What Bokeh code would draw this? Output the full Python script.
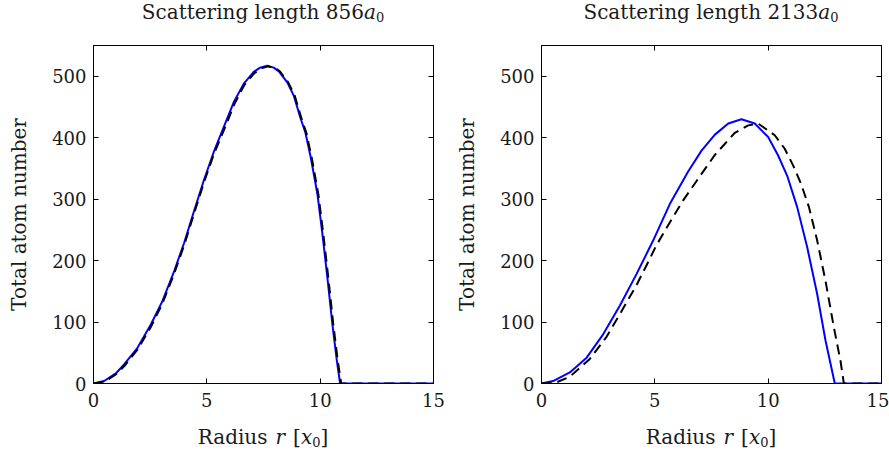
from bokeh.plotting import figure
from bokeh.layouts import row, column
from bokeh.models import Range1d, FixedTicker, LinearAxis, CustomJSTickFormatter, Div
from bokeh.embed import file_html
from bokeh.resources import INLINE

# ---------------- data ----------------
scattering_lengths = ["856", "2133"]
x_ticks = [0, 5, 10, 15]
y_ticks = [0, 100, 200, 300, 400, 500]

# left panel (856 a0)
r_blue_1 = [0, 0.47, 1.0, 1.35, 1.94, 2.53, 3.04, 3.56, 4.0, 4.44, 4.88, 5.32, 5.82, 6.19, 6.63,
            7.07, 7.35, 7.66, 7.95, 8.18, 8.55, 8.84, 9.13, 9.35, 9.59, 9.88, 10.1, 10.32, 10.54,
            10.74, 10.88, 15]
n_blue_1 = [0, 4, 17, 31, 58, 96, 134, 183, 229, 281, 332, 378, 424, 458, 488,
            507, 514, 517, 514, 508, 490, 468, 432, 408, 367, 308, 243, 172, 96,
            36, 0, 0]
r_dash_1 = [0, 0.5, 1.0, 1.35, 1.94, 2.53, 3.04, 3.56, 4.0, 4.44, 4.88, 5.32, 5.85, 6.22, 6.66,
            7.1, 7.4, 7.7, 8.0, 8.22, 8.59, 8.88, 9.17, 9.39, 9.63, 9.92, 10.14, 10.36, 10.58,
            10.78, 10.93, 15]
n_dash_1 = [0, 3, 15, 28, 55, 92, 130, 179, 225, 277, 328, 374, 421, 455, 486,
            505, 513, 516, 514, 508, 490, 468, 432, 408, 367, 308, 243, 172, 96,
            36, 0, 0]

# right panel (2133 a0)
r_blue_2 = [0, 0.51, 1.25, 1.99, 2.72, 3.46, 4.19, 4.93, 5.66, 6.47, 7.06, 7.65, 8.24, 8.82,
            9.41, 10.0, 10.44, 10.84, 11.28, 11.72, 12.16, 12.53, 12.94, 15]
n_blue_2 = [0, 4, 18, 42, 80, 127, 178, 233, 292, 345, 379, 405, 423, 430,
            423, 401, 371, 338, 287, 222, 146, 70, 0, 0]
r_dash_2 = [0, 0.6, 1.25, 2.13, 2.87, 3.6, 4.19, 4.63, 5.07, 5.66, 6.25, 7.06, 7.65, 8.53,
            9.12, 9.56, 10.29, 10.73, 11.1, 11.45, 11.8, 12.16, 12.53, 12.9, 13.19, 13.34, 15]
n_dash_2 = [0, 1, 11, 40, 76, 122, 160, 192, 225, 262, 298, 341, 372, 408,
            420, 423, 404, 382, 355, 325, 287, 233, 167, 91, 37, 0, 0]

# ---------------- style ----------------
FONT = "DejaVu Serif"
TXT = "#1a1a1a"
FW, FH = 340, 338


def make_panel(rb, nb, rd, nd, a_len, left_border, right_border):
    p = figure(frame_width=FW, frame_height=FH, output_backend="svg", toolbar_location=None,
               x_range=Range1d(0, 15), y_range=Range1d(0, 550), title=None,
               min_border_left=left_border, min_border_right=right_border,
               min_border_top=15, min_border_bottom=40, background_fill_color="white",
               border_fill_color="white")
    p.grid.visible = False
    p.outline_line_color = "black"
    p.outline_line_width = 1

    for ax in (p.xaxis[0], p.yaxis[0]):
        ax.major_tick_in = 5
        ax.major_tick_out = 0
        ax.minor_tick_line_color = None
        ax.axis_line_color = "black"
        ax.major_tick_line_color = "black"
        ax.major_label_text_font = FONT
        ax.major_label_text_font_size = "18px"
        ax.major_label_text_color = TXT
    p.xaxis[0].major_label_standoff = 9
    p.yaxis[0].major_label_standoff = 7
    p.xaxis[0].ticker = FixedTicker(ticks=x_ticks)
    p.yaxis[0].ticker = FixedTicker(ticks=y_ticks)
    p.yaxis[0].axis_label = "Total atom number"
    p.yaxis[0].axis_label_text_font = FONT
    p.yaxis[0].axis_label_text_font_size = "20px"
    p.yaxis[0].axis_label_text_font_style = "normal"
    p.yaxis[0].axis_label_text_color = TXT
    p.yaxis[0].axis_label_standoff = 18

    blank = CustomJSTickFormatter(code="return ''")
    top = LinearAxis(ticker=FixedTicker(ticks=x_ticks), formatter=blank, major_tick_in=5,
                     major_tick_out=0, minor_tick_line_color=None, major_label_standoff=0,
                     major_label_text_font_size="1px")
    right = LinearAxis(ticker=FixedTicker(ticks=y_ticks), formatter=blank, major_tick_in=5,
                       major_tick_out=0, minor_tick_line_color=None, major_label_standoff=0,
                       major_label_text_font_size="1px")
    p.add_layout(top, "above")
    p.add_layout(right, "right")

    p.line(rb, nb, line_color="#0000ff", line_width=2, line_join="round")
    p.line(rd, nd, line_color="black", line_width=2, line_dash="10 6", line_join="round")

    base_style = {"font-family": FONT, "font-size": "20px", "color": TXT,
                  "text-align": "center", "line-height": "20px", "white-space": "nowrap"}
    sub = '<sub style="font-size:13px;vertical-align:-3px;line-height:0">0</sub>'
    title_html = f"Scattering length {a_len}<i>a</i>{sub}"
    t_style = dict(base_style)
    t_style["padding-top"] = "1.5px"
    title = Div(text=title_html, width=FW, height=30, margin=(0, right_border, 0, left_border),
                styles=t_style)

    xl_html = ('Radius<span style="margin-left:8px"><i>r</i></span>'
               '<span style="margin-left:8px">[</span><i>x</i>' + sub + ']')
    x_style = dict(base_style)
    x_style["padding-top"] = "4px"
    xlab = Div(text=xl_html, width=FW, height=30, margin=(0, right_border, 0, left_border),
               styles=x_style)
    return column(title, p, xlab, spacing=0)


c1 = make_panel(r_blue_1, n_blue_1, r_dash_1, n_dash_1, scattering_lengths[0], 93, 12)
c2 = make_panel(r_blue_2, n_blue_2, r_dash_2, n_dash_2, scattering_lengths[1], 96, 8)

layout = row(c1, c2, spacing=0)
open("out.html", "w").write(file_html(layout, INLINE))
